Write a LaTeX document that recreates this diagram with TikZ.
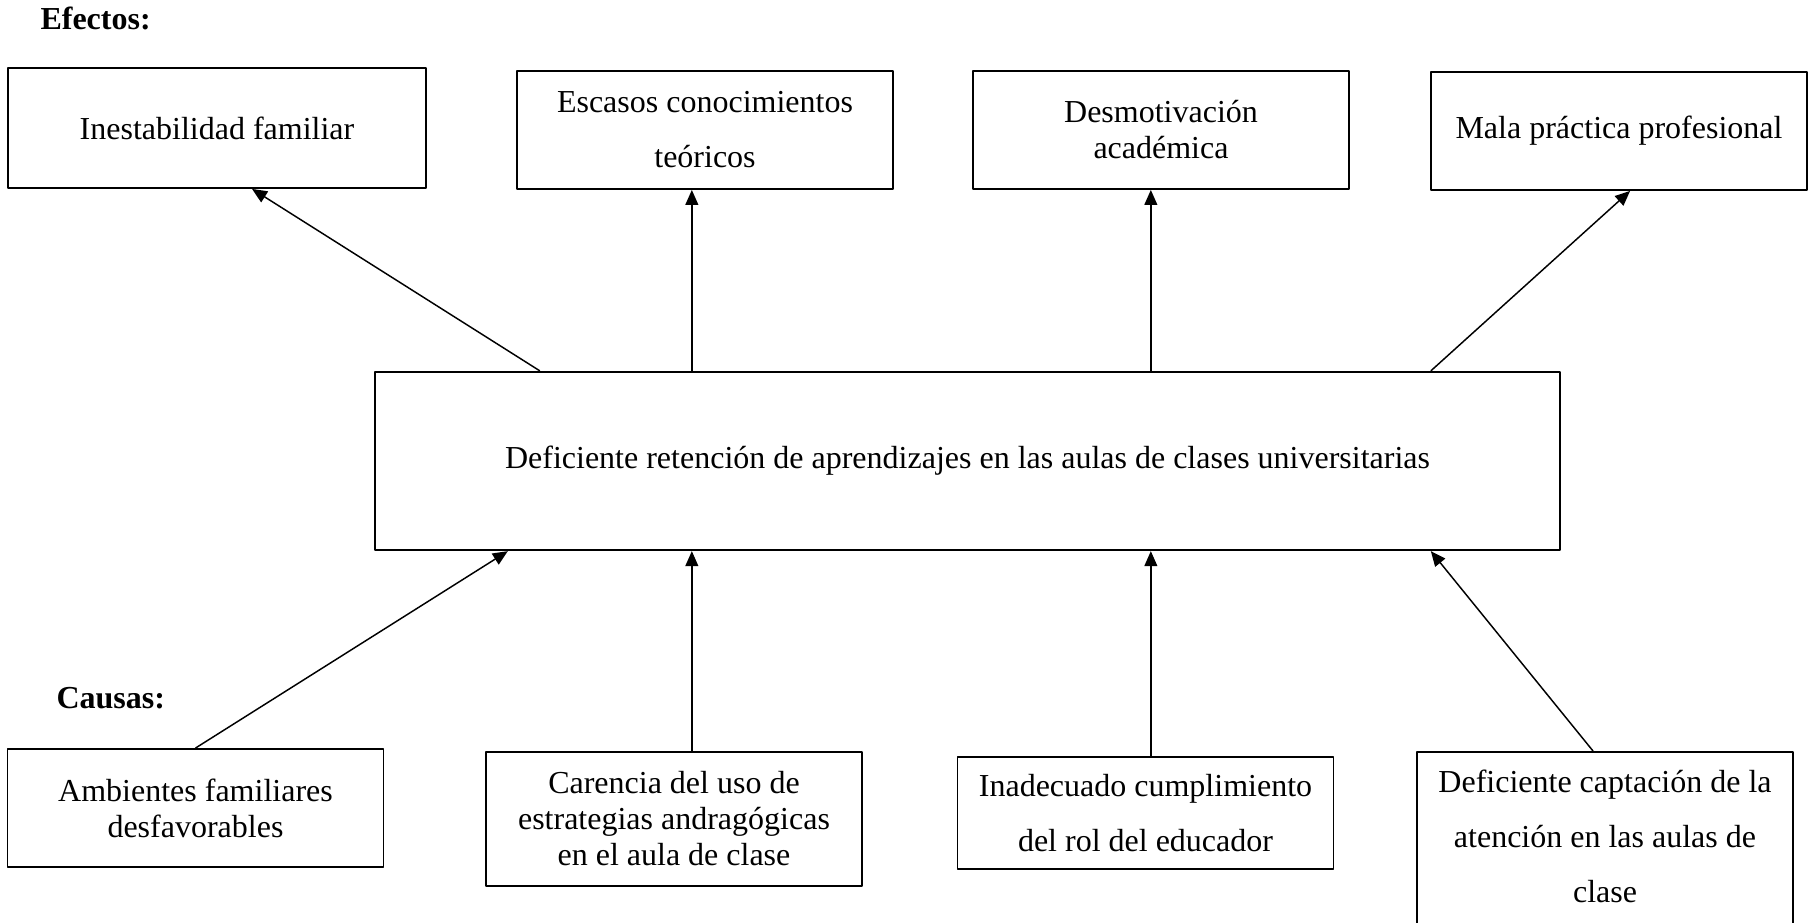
\documentclass[tikz,border=0pt]{standalone}
\usepackage{fontspec}
\setmainfont{Liberation Serif}
\usetikzlibrary{arrows.meta,calc}
\tikzset{
  caja/.style={draw,line width=.7pt,minimum width=141pt,minimum height=44.25pt,inner sep=2pt,align=center,font=\fontsize{12}{13.5}\selectfont},
  doble/.style={font=\fontsize{12}{20.6}\selectfont},
  titulo/.style={anchor=base west,inner sep=0pt,font=\fontsize{12}{14}\selectfont\bfseries}
}
\begin{document}
\begin{tikzpicture}[x=.375pt,y=-.375pt,>={Triangle[length=5.6pt,width=4.8pt]},line join=round]
\useasboundingbox (0,0) rectangle (1815,923);
\clip (0,0) rectangle (1815,923);
% efectos
\node[titulo] (efectos) at (40,30) {Efectos:};
\node[caja,minimum width=156.75pt,minimum height=45pt] (e1) at (217,128) {Inestabilidad familiar};
\node[caja,doble] (e2) at (705,130) {Escasos conocimientos\\teóricos};
\node[caja] (e3) at (1161,130) {Desmotivación\\académica};
\node[caja] (e4) at (1619,131) {Mala práctica profesional};
% problema
\node[caja,minimum width=444.4pt,minimum height=66.75pt,line width=.85pt] (prob) at (967.5,461) {Deficiente retención de aprendizajes en las aulas de clases universitarias};
% causas
\node[titulo] (causas) at (56,708) {Causas:};
\node[caja] (c1) at (195.5,808) {Ambientes familiares\\desfavorables};
\node[caja,minimum height=50.25pt] (c2) at (674,819) {Carencia del uso de\\estrategias andragógicas\\en el aula de clase};
\node[caja,doble,minimum height=42pt] (c3) at (1145.5,813) {Inadecuado cumplimiento\\del rol del educador};
\node[caja,minimum height=70.5pt] (c4) at (1605,846) {};
\node[doble,align=center,inner sep=0pt] (c4t) at (1605,836) {Deficiente captación de la\\atención en las aulas de\\clase};
% puntos de las flechas
\path (prob.north west) +(166,0)coordinate(p1) +(318,0)coordinate(p2) +(777,0)coordinate(p3) +(1057,0)coordinate(p4);
\path (prob.south west) +(134,0)coordinate(q1) +(318,0)coordinate(q2) +(777,0)coordinate(q3) +(1057,0)coordinate(q4);
\path (e1.south west)+(245,0)coordinate(f1) (e4.south west)+(200,0)coordinate(f4);
\path (c1.north)coordinate(g1) (c4.north west)+(177,0)coordinate(g4);
\begin{scope}[line width=.55pt]
\foreach \i/\j in {p1/f1,p4/f4,g1/q1,g4/q4}
\draw[->] (\i)--(\j);
\foreach \i/\j in {p2/e2,p3/e3}
\draw[->] (\i)--(\i |- \j.south);
\foreach \i/\j in {q2/c2,q3/c3}
\draw[->] (\i |- \j.north)--(\i);
\end{scope}
\end{tikzpicture}
\end{document}
